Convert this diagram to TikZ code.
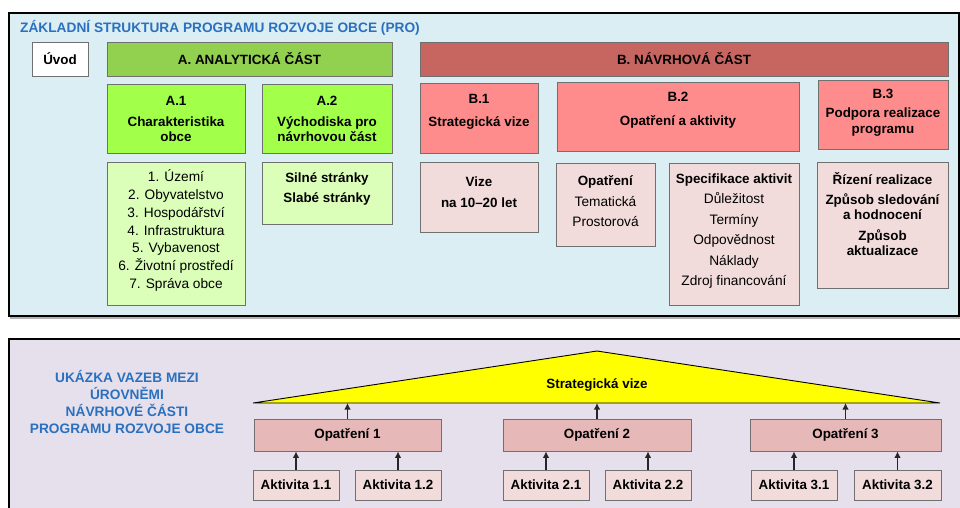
\documentclass[tikz,border=0pt]{standalone}
\usepackage{fontspec}
\setmainfont{Liberation Sans}
\usetikzlibrary{arrows.meta}
\definecolor{panelblue}{HTML}{DAEEF3}
\definecolor{panelviolet}{HTML}{E5E0EC}
\definecolor{titleblue}{HTML}{2B70BF}
\definecolor{agreen}{HTML}{92D050}
\definecolor{alime}{HTML}{A2FF4A}
\definecolor{alight}{HTML}{DBFFB9}
\definecolor{bred}{HTML}{C76561}
\definecolor{bpink}{HTML}{FF8C8C}
\definecolor{blight}{HTML}{F2DCDB}
\definecolor{opfill}{HTML}{E6B8B7}
\definecolor{akfill}{HTML}{F2DCDB}
\definecolor{edge}{HTML}{707070}
\definecolor{vyellow}{HTML}{FFFF00}
\newcommand\fs[1]{\fontsize{13.4}{#1}\selectfont}
\newcommand\fr[1]{\fontsize{13.7}{#1}\selectfont}
\newcommand\boxat[7]{\node[bx,#6,minimum width={#4-#2},minimum height={#5-#3}] (#1) at ({(#2+#4)/2},{(#3+#5)/2}) {#7};}
\begin{document}
\begin{tikzpicture}[x=1pt,y=-1pt,
  panel/.style={draw=black,line width=2pt},
  pshadow/.style={draw=black!30,line width=2pt},
  bx/.style={draw=edge,line width=0.8pt,inner sep=0pt,font=\bfseries\fs{15}},
  txt/.style={inner sep=0pt,align=center},
  arr/.style={draw=black!85,line width=1.1pt,-{Latex[length=6.5pt,width=6.5pt]}}
]
\useasboundingbox (0,0) rectangle (960,507);
\clip (0,0) rectangle (960,507);
\fill[white] (0,0) rectangle (960,507);
% panels
\draw[pshadow] (10.5,14) rectangle (960.5,317.5);
\draw[panel,fill=panelblue] (9,12.5) rectangle (959,316);
\draw[pshadow] (10.5,340.5) rectangle (980,530);
\draw[panel,fill=panelviolet] (9,339) rectangle (978,528);
% title
\node[txt,anchor=west,text=titleblue,font=\bfseries\fr{15}] (title) at (20,28) {ZÁKLADNÍ STRUKTURA PROGRAMU ROZVOJE OBCE (PRO)};
% row 1
\boxat{uvod}{32}{42}{88}{76}{fill=white}{Úvod}
\boxat{ahead}{107}{42}{392}{76}{fill=agreen}{A. ANALYTICKÁ ČÁST}
\boxat{bhead}{420}{42}{948}{76}{fill=bred}{B. NÁVRHOVÁ ČÁST}
% row 2
\boxat{a1}{107}{84}{245}{153}{fill=alime}{}
\node[txt,font=\bfseries\fs{15}] (a1t) at (176,119) {A.1\\[6pt]Charakteristika\\obce};
\boxat{a2}{262}{84}{392}{153}{fill=alime}{}
\node[txt,font=\bfseries\fs{15}] (a2t) at (327,119) {A.2\\[6pt]Východiska pro\\návrhovou část};
\boxat{b1}{420}{83}{538}{153}{fill=bpink}{}
\node[txt,font=\bfseries\fs{15}] (b1t) at (479,111.5) {B.1\\[8pt]Strategická vize};
\boxat{b2}{557}{82}{799}{151}{fill=bpink}{}
\node[txt,font=\bfseries\fs{15}] (b2t) at (678,110) {B.2\\[9pt]Opatření a aktivity};
\boxat{b3}{818}{80}{948}{149}{fill=bpink}{}
\node[txt,font=\bfseries\fs{15.5}] (b3t) at (883,112.5) {B.3\\[3.5pt]Podpora realizace\\programu};
% row 3
\boxat{a1d}{107}{162}{245}{305}{fill=alight}{}
\node[txt,font=\fr{17.8}] (a1dt) at (176,230.5) {1. Území\\2. Obyvatelstvo\\3. Hospodářství\\4. Infrastruktura\\5. Vybavenost\\6. Životní prostředí\\7. Správa obce};
\boxat{a2d}{262}{162}{392}{224}{fill=alight}{}
\node[txt,font=\bfseries\fs{20}] (a2dt) at (327,189) {Silné stránky\\Slabé stránky};
\boxat{b1d}{420}{162}{538}{232}{fill=blight}{}
\node[txt,font=\bfseries\fs{21}] (b1dt) at (479,192.5) {Vize\\na 10–20 let};
\boxat{b2o}{556}{163}{655}{246}{fill=blight}{}
\node[txt,font=\fr{20.5}] (b2ot) at (605.5,201.5) {\textbf{\fs{20.5}Opatření}\\Tematická\\Prostorová};
\boxat{b2s}{669}{163}{799}{305}{fill=blight}{}
\node[txt,font=\fr{20.4}] (b2st) at (734,231) {\textbf{\fs{20.4}Specifikace aktivit}\\Důležitost\\Termíny\\Odpovědnost\\Náklady\\Zdroj financování};
\boxat{b3d}{817}{162}{948}{288}{fill=blight}{}
\node[txt,font=\bfseries\fs{15}] (b3dt) at (882.5,214.5) {Řízení realizace\\[5pt]Způsob sledování\\a hodnocení\\[6pt]Způsob\\aktualizace};
% bottom panel
\node[txt,text=titleblue,font=\bfseries\fr{16.7}] (btitle) at (127,402) {UKÁZKA VAZEB MEZI\\ÚROVNĚMI\\NÁVRHOVÉ ČÁSTI\\PROGRAMU ROZVOJE OBCE};
\coordinate (tl) at (253,403);
\coordinate (apex) at (597,351);
\coordinate (tr) at (940,403);
\draw[fill=vyellow,draw=black,line width=0.9pt] (tl) -- (apex) -- (tr) -- cycle;
\node[txt,font=\bfseries\fs{15}] (vize) at (597,385) {Strategická vize};
\boxat{op1}{254}{419}{441}{451}{fill=opfill}{Opatření 1}
\boxat{op2}{503}{419}{691}{451}{fill=opfill}{Opatření 2}
\boxat{op3}{750}{419}{941}{451}{fill=opfill}{Opatření 3}
\boxat{ak11}{253}{470}{339}{500}{fill=akfill}{Aktivita 1.1}
\boxat{ak12}{355}{470}{441}{500}{fill=akfill}{Aktivita 1.2}
\boxat{ak21}{503}{470}{589}{500}{fill=akfill}{Aktivita 2.1}
\boxat{ak22}{605}{470}{691}{500}{fill=akfill}{Aktivita 2.2}
\boxat{ak31}{751}{470}{837}{500}{fill=akfill}{Aktivita 3.1}
\boxat{ak32}{854}{470}{941}{500}{fill=akfill}{Aktivita 3.2}
% arrows
\foreach \o in {op1,op2,op3}{\draw[arr] (\o.north) -- (\o.north |- tl);}
\draw[arr] (ak11.north) -- (ak11.north |- op1.south);
\draw[arr] (ak12.north) -- (ak12.north |- op1.south);
\draw[arr] (ak21.north) -- (ak21.north |- op2.south);
\draw[arr] (ak22.north) -- (ak22.north |- op2.south);
\draw[arr] (ak31.north) -- (ak31.north |- op3.south);
\draw[arr] (ak32.north) -- (ak32.north |- op3.south);
\end{tikzpicture}
\end{document}
